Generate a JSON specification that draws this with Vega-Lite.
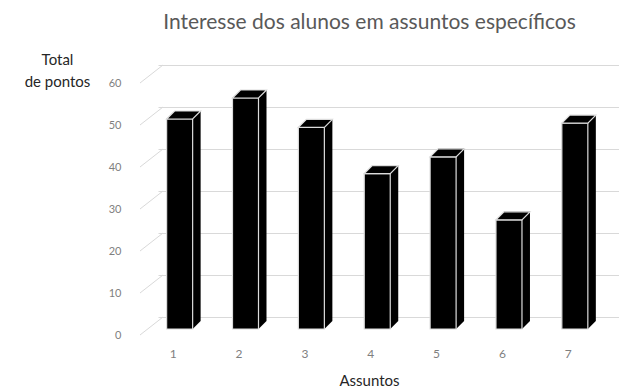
{
  "$schema": "https://vega.github.io/schema/vega-lite/v6.json",
  "width": 461,
  "height": 252,
  "autosize": {"type": "none"},
  "padding": {"left": 158, "top": 77, "right": 0, "bottom": 58},
  "background": "white",
  "title": {
    "text": "Interesse dos alunos em assuntos específicos",
    "font": "Lato",
    "fontSize": 21,
    "fontWeight": "normal",
    "color": "#595959",
    "anchor": "middle",
    "dx": -19,
    "dy": -15
  },
  "datasets": {
    "pontos": [
      {"assunto": 1, "total": 50},
      {"assunto": 2, "total": 55},
      {"assunto": 3, "total": 48},
      {"assunto": 4, "total": 37},
      {"assunto": 5, "total": 41},
      {"assunto": 6, "total": 26},
      {"assunto": 7, "total": 49}
    ],
    "grade": [
      {"v": 0}, {"v": 10}, {"v": 20}, {"v": 30}, {"v": 40}, {"v": 50}, {"v": 60}
    ]
  },
  "layer": [
    {
      "data": {"name": "grade"},
      "mark": {"type": "rule", "color": "#d9d9d9", "strokeWidth": 1, "xOffset": -23, "yOffset": 6, "x2Offset": 0, "y2Offset": -12},
      "encoding": {
        "x": {"datum": 0.7475, "type": "quantitative",
          "scale": {"domain": [0.7475, 7.5945], "nice": false, "zero": false},
          "axis": {
            "values": [1, 2, 3, 4, 5, 6, 7], "format": "d",
            "labelOffset": -7, "labelPadding": 19, "labelColor": "#7f7f7f", "labelFontSize": 12, "labelFont": "Lato",
            "domain": false, "ticks": false, "grid": false,
            "title": "Assuntos", "titleX": 211, "titleY": 51, "titleBaseline": "middle", "titleAlign": "center",
            "titleFontSize": 15, "titleFontWeight": "normal", "titleColor": "#262626", "titleFont": "Lato"
          }
        },
        "x2": {"datum": 0.7475},
        "y": {"field": "v", "type": "quantitative",
          "scale": {"domain": [0, 60], "nice": false},
          "axis": {
            "values": [0, 10, 20, 30, 40, 50, 60],
            "labelColor": "#7f7f7f", "labelFontSize": 11, "labelFont": "Lato",
            "domain": false, "ticks": false, "grid": true, "gridColor": "#d9d9d9",
            "tickOffset": -12, "labelOffset": 18, "labelPadding": 37,
            "title": ["Total", "de pontos"], "titleAngle": 0, "titleX": -101, "titleY": -25,
            "titleAlign": "center", "titleBaseline": "top", "titleFontSize": 15, "titleFontWeight": "normal",
            "titleColor": "#262626", "titleFont": "Lato", "titleLineHeight": 22
          }
        },
        "y2": {"field": "v"}
      }
    },
    {
      "data": {"name": "pontos"},
      "mark": {"type": "bar", "width": 26, "color": "black", "xOffset": 8, "yOffset": -8, "y2Offset": -8},
      "encoding": {
        "x": {"field": "assunto", "type": "quantitative"},
        "y": {"field": "total", "type": "quantitative"},
        "y2": {"datum": 0}
      }
    },
    {
      "data": {"name": "pontos"},
      "mark": {"type": "point", "shape": "M13,-8L21,-8L13,0Z", "size": 4, "filled": true, "fill": "black", "opacity": 1, "strokeWidth": 0},
      "encoding": {
        "x": {"field": "assunto", "type": "quantitative"},
        "y": {"datum": 0, "type": "quantitative"}
      }
    },
    {
      "data": {"name": "pontos"},
      "mark": {"type": "bar", "width": 26, "fill": "black", "stroke": "#dcdcdc", "strokeWidth": 1.2},
      "encoding": {
        "x": {"field": "assunto", "type": "quantitative"},
        "y": {"field": "total", "type": "quantitative"},
        "y2": {"datum": 0}
      }
    },
    {
      "data": {"name": "pontos"},
      "mark": {"type": "point", "shape": "M-13,0L-5,-8L21,-8L13,0Z", "size": 4, "filled": true, "fill": "black", "stroke": "#dcdcdc", "strokeWidth": 1.2, "opacity": 1},
      "encoding": {
        "x": {"field": "assunto", "type": "quantitative"},
        "y": {"field": "total", "type": "quantitative"}
      }
    }
  ],
  "config": {
    "view": {"stroke": null}
  }
}
